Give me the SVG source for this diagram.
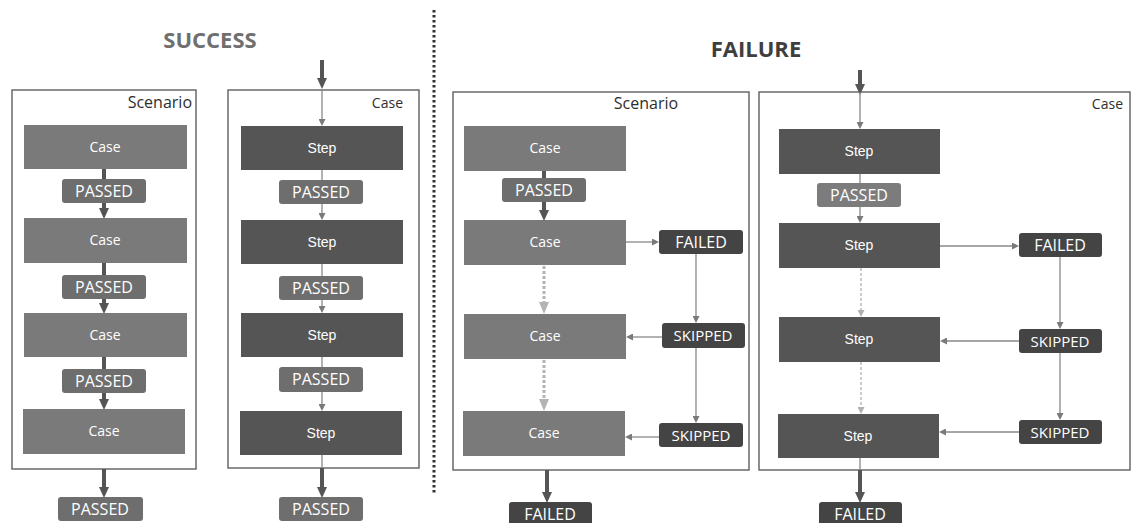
<svg xmlns="http://www.w3.org/2000/svg" width="1132" height="523" viewBox="0 0 1132 523">
  <defs>
    <marker id="headThick" viewBox="0 0 11 10" markerWidth="11" markerHeight="10" refX="2" refY="5" orient="auto" markerUnits="userSpaceOnUse">
      <path d="M0,0 L11,5 L0,10 z" fill="#555"/>
    </marker>
    <marker id="headThin" viewBox="0 0 7 7" markerWidth="7" markerHeight="7" refX="1" refY="3.5" orient="auto" markerUnits="userSpaceOnUse">
      <path d="M0,0 L7,3.5 L0,7 z" fill="#7a7a7a"/>
    </marker>
    <marker id="headLight" viewBox="0 0 7 7" markerWidth="7" markerHeight="7" refX="1" refY="3.5" orient="auto" markerUnits="userSpaceOnUse">
      <path d="M0,0 L7,3.5 L0,7 z" fill="#b0b0b0"/>
    </marker>
    <marker id="headLightBig" viewBox="0 0 12 10" markerWidth="12" markerHeight="10" refX="2" refY="5" orient="auto" markerUnits="userSpaceOnUse">
      <path d="M0,0 L12,5 L0,10 z" fill="#b4b4b4"/>
    </marker>
  </defs>
  <style>
    .title { font-family: "Open Sans", "Liberation Sans", sans-serif; font-weight: 700; font-size: 22px; text-anchor: middle; }
    .frame { fill: #fff; stroke: #6a6a6a; stroke-width: 1.5; }
    .frameLabel { font-family: "Open Sans", "Liberation Sans", sans-serif; font-size: 16px; fill: #2e2e2e; }
    .frameLabelSmall { font-family: "Open Sans", "Liberation Sans", sans-serif; font-size: 14px; fill: #2e2e2e; text-anchor: end; }
    .case { fill: #7a7a7a; }
    .step { fill: #555; }
    .caseText { font-family: "Open Sans", "Liberation Sans", sans-serif; font-size: 14px; fill: #fff; text-anchor: middle; }
    .stepText { font-family: "Liberation Sans", Arial, sans-serif; font-size: 14px; fill: #fff; text-anchor: middle; }
    .pass { fill: #6e6e6e; }
    .passLight { fill: #7c7c7c; }
    .bad { fill: #444; }
    .badgeText { font-family: "Open Sans", "Liberation Sans", sans-serif; font-size: 16px; fill: #fff; text-anchor: middle; }
    .skipText { font-size: 15px; }
    .thick { stroke: #555; stroke-width: 4; fill: none; }
    .thin { stroke: #888; stroke-width: 1.3; fill: none; }
    .dotLight { stroke: #b4b4b4; stroke-width: 3; stroke-dasharray: 3 2; fill: none; }
    .dashLight { stroke: #aaa; stroke-width: 1.2; stroke-dasharray: 3 2; fill: none; }
    .divider { stroke: #333; stroke-width: 3; stroke-dasharray: 2.5 2.5; fill: none; }
  </style>

  <rect width="1132" height="523" fill="#fff"/>

  <!-- headings and divider -->
  <text class="title" x="210" y="48" fill="#6f6f6f">SUCCESS</text>
  <text class="title" x="756" y="57" fill="#3e3e3e">FAILURE</text>
  <line class="divider" x1="434" y1="10" x2="434" y2="494"/>

  <!-- frames -->
  <g id="success-scenario">
    <rect class="frame" x="12" y="90" width="184" height="379"/>
    <text class="frameLabel" x="192" y="108" text-anchor="end">Scenario</text>
  </g>
  <g id="success-case">
    <rect class="frame" x="228" y="90" width="191" height="378"/>
    <text class="frameLabelSmall" x="403" y="108">Case</text>
  </g>
  <g id="failure-scenario">
    <rect class="frame" x="453" y="92" width="296" height="378"/>
    <text class="frameLabel" x="646" y="109" text-anchor="middle">Scenario</text>
  </g>
  <g id="failure-case">
    <rect class="frame" x="759" y="92" width="371" height="378"/>
    <text class="frameLabelSmall" x="1123" y="109">Case</text>
  </g>

  <!-- connectors -->
  <g id="connectors">
    <!-- success scenario -->
    <line class="thick" x1="104" y1="169" x2="104" y2="179"/>
    <line class="thick" x1="104" y1="203" x2="104" y2="210" marker-end="url(#headThick)"/>
    <line class="thick" x1="104" y1="263" x2="104" y2="275"/>
    <line class="thick" x1="104" y1="299" x2="104" y2="305" marker-end="url(#headThick)"/>
    <line class="thick" x1="104" y1="357" x2="104" y2="369"/>
    <line class="thick" x1="104" y1="393" x2="104" y2="401" marker-end="url(#headThick)"/>
    <line class="thick" x1="104" y1="469" x2="104" y2="489" marker-end="url(#headThick)"/>

    <!-- success case -->
    <line class="thick" x1="322" y1="60" x2="322" y2="80" marker-end="url(#headThick)"/>
    <line class="thin" x1="322" y1="90" x2="322" y2="120" marker-end="url(#headThin)"/>
    <line class="thin" x1="322" y1="170" x2="322" y2="180"/>
    <line class="thin" x1="322" y1="204" x2="322" y2="214" marker-end="url(#headThin)"/>
    <line class="thin" x1="322" y1="264" x2="322" y2="276"/>
    <line class="thin" x1="322" y1="300" x2="322" y2="307" marker-end="url(#headThin)"/>
    <line class="thin" x1="322" y1="357" x2="322" y2="367"/>
    <line class="thin" x1="322" y1="392" x2="322" y2="405" marker-end="url(#headThin)"/>
    <line class="thin" x1="322" y1="455" x2="322" y2="468"/>
    <line class="thick" x1="322" y1="468" x2="322" y2="489" marker-end="url(#headThick)"/>

    <!-- failure scenario -->
    <line class="thick" x1="544" y1="171" x2="544" y2="178"/>
    <line class="thick" x1="544" y1="202" x2="544" y2="212" marker-end="url(#headThick)"/>
    <line class="thin" x1="626" y1="242" x2="653" y2="242" marker-end="url(#headThin)"/>
    <line class="dotLight" x1="544" y1="266" x2="544" y2="304" marker-end="url(#headLightBig)"/>
    <line class="dotLight" x1="544" y1="360" x2="544" y2="401" marker-end="url(#headLightBig)"/>
    <line class="thin" x1="696" y1="254" x2="696" y2="317" marker-end="url(#headThin)"/>
    <line class="thin" x1="696" y1="348" x2="696" y2="417" marker-end="url(#headThin)"/>
    <line class="thin" x1="662" y1="337" x2="632" y2="337" marker-end="url(#headThin)"/>
    <line class="thin" x1="659" y1="437" x2="631" y2="437" marker-end="url(#headThin)"/>
    <line class="thick" x1="547" y1="470" x2="547" y2="494" marker-end="url(#headThick)"/>

    <!-- failure case -->
    <line class="thick" x1="860" y1="70" x2="860" y2="86" marker-end="url(#headThick)"/>
    <line class="thin" x1="860" y1="92" x2="860" y2="123" marker-end="url(#headThin)"/>
    <line class="thin" x1="860" y1="174" x2="860" y2="183"/>
    <line class="thin" x1="860" y1="207" x2="860" y2="217" marker-end="url(#headThin)"/>
    <line class="thin" x1="940" y1="246" x2="1013" y2="246" marker-end="url(#headThin)"/>
    <line class="dashLight" x1="861" y1="268" x2="861" y2="311" marker-end="url(#headLight)"/>
    <line class="dashLight" x1="861" y1="362" x2="861" y2="408" marker-end="url(#headLight)"/>
    <line class="thin" x1="1060" y1="257" x2="1060" y2="323" marker-end="url(#headThin)"/>
    <line class="thin" x1="1060" y1="353" x2="1060" y2="414" marker-end="url(#headThin)"/>
    <line class="thin" x1="1019" y1="341" x2="946" y2="341" marker-end="url(#headThin)"/>
    <line class="thin" x1="1019" y1="432" x2="945" y2="432" marker-end="url(#headThin)"/>
    <line class="thin" x1="860" y1="458" x2="860" y2="470"/>
    <line class="thick" x1="860" y1="470" x2="860" y2="494" marker-end="url(#headThick)"/>
  </g>

  <!-- success scenario nodes -->
  <g id="s-case-1"><rect class="case" x="24" y="125" width="163" height="44"/><text class="caseText" x="105" y="152">Case</text></g>
  <g id="s-pass-1"><rect class="pass" x="62" y="179" width="84" height="24" rx="3"/><text class="badgeText" x="104" y="197">PASSED</text></g>
  <g id="s-case-2"><rect class="case" x="24" y="218" width="163" height="45"/><text class="caseText" x="105" y="245">Case</text></g>
  <g id="s-pass-2"><rect class="pass" x="62" y="275" width="84" height="24" rx="3"/><text class="badgeText" x="104" y="293">PASSED</text></g>
  <g id="s-case-3"><rect class="case" x="24" y="313" width="163" height="44"/><text class="caseText" x="105" y="340">Case</text></g>
  <g id="s-pass-3"><rect class="pass" x="62" y="369" width="84" height="24" rx="3"/><text class="badgeText" x="104" y="387">PASSED</text></g>
  <g id="s-case-4"><rect class="case" x="23" y="409" width="162" height="45"/><text class="caseText" x="104" y="436">Case</text></g>
  <g id="s-pass-out"><rect class="pass" x="58" y="497" width="85" height="24" rx="3"/><text class="badgeText" x="100" y="515">PASSED</text></g>

  <!-- success case nodes -->
  <g id="s-step-1"><rect class="step" x="241" y="126" width="162" height="44"/><text class="stepText" x="322" y="153">Step</text></g>
  <g id="s-pass-s1"><rect class="pass" x="279" y="180" width="84" height="24" rx="3"/><text class="badgeText" x="321" y="198">PASSED</text></g>
  <g id="s-step-2"><rect class="step" x="241" y="220" width="162" height="44"/><text class="stepText" x="322" y="247">Step</text></g>
  <g id="s-pass-s2"><rect class="pass" x="279" y="276" width="84" height="24" rx="3"/><text class="badgeText" x="321" y="294">PASSED</text></g>
  <g id="s-step-3"><rect class="step" x="241" y="313" width="162" height="44"/><text class="stepText" x="322" y="340">Step</text></g>
  <g id="s-pass-s3"><rect class="pass" x="279" y="367" width="84" height="25" rx="3"/><text class="badgeText" x="321" y="385">PASSED</text></g>
  <g id="s-step-4"><rect class="step" x="240" y="411" width="162" height="44"/><text class="stepText" x="321" y="438">Step</text></g>
  <g id="s-pass-s-out"><rect class="pass" x="279" y="497" width="84" height="24" rx="3"/><text class="badgeText" x="321" y="515">PASSED</text></g>

  <!-- failure scenario nodes -->
  <g id="f-case-1"><rect class="case" x="464" y="126" width="162" height="45"/><text class="caseText" x="545" y="153">Case</text></g>
  <g id="f-pass-1"><rect class="pass" x="502" y="178" width="84" height="24" rx="3"/><text class="badgeText" x="544" y="196">PASSED</text></g>
  <g id="f-case-2"><rect class="case" x="464" y="220" width="162" height="45"/><text class="caseText" x="545" y="247">Case</text></g>
  <g id="f-failed-1"><rect class="bad" x="659" y="230" width="84" height="24" rx="3"/><text class="badgeText" x="701" y="248">FAILED</text></g>
  <g id="f-case-3"><rect class="case" x="464" y="314" width="162" height="45"/><text class="caseText" x="545" y="341">Case</text></g>
  <g id="f-skip-1"><rect class="bad" x="662" y="323" width="83" height="25" rx="3"/><text class="badgeText skipText" x="703" y="341">SKIPPED</text></g>
  <g id="f-case-4"><rect class="case" x="463" y="411" width="162" height="45"/><text class="caseText" x="544" y="438">Case</text></g>
  <g id="f-skip-2"><rect class="bad" x="659" y="423" width="84" height="24" rx="3"/><text class="badgeText skipText" x="701" y="441">SKIPPED</text></g>
  <g id="f-failed-out"><rect class="bad" x="509" y="502" width="83" height="26" rx="3"/><text class="badgeText" x="550" y="520">FAILED</text></g>

  <!-- failure case nodes -->
  <g id="f-step-1"><rect class="step" x="779" y="129" width="161" height="45"/><text class="stepText" x="859" y="156">Step</text></g>
  <g id="f-pass-s1"><rect class="passLight" x="817" y="183" width="84" height="24" rx="3"/><text class="badgeText" x="859" y="201">PASSED</text></g>
  <g id="f-step-2"><rect class="step" x="779" y="223" width="161" height="45"/><text class="stepText" x="859" y="250">Step</text></g>
  <g id="f-failed-s"><rect class="bad" x="1019" y="233" width="83" height="24" rx="3"/><text class="badgeText" x="1060" y="251">FAILED</text></g>
  <g id="f-step-3"><rect class="step" x="779" y="317" width="161" height="45"/><text class="stepText" x="859" y="344">Step</text></g>
  <g id="f-skip-s1"><rect class="bad" x="1019" y="329" width="83" height="24" rx="3"/><text class="badgeText skipText" x="1060" y="347">SKIPPED</text></g>
  <g id="f-step-4"><rect class="step" x="778" y="414" width="161" height="44"/><text class="stepText" x="858" y="441">Step</text></g>
  <g id="f-skip-s2"><rect class="bad" x="1019" y="420" width="83" height="24" rx="3"/><text class="badgeText skipText" x="1060" y="438">SKIPPED</text></g>
  <g id="f-failed-s-out"><rect class="bad" x="819" y="502" width="83" height="26" rx="3"/><text class="badgeText" x="860" y="520">FAILED</text></g>
</svg>
